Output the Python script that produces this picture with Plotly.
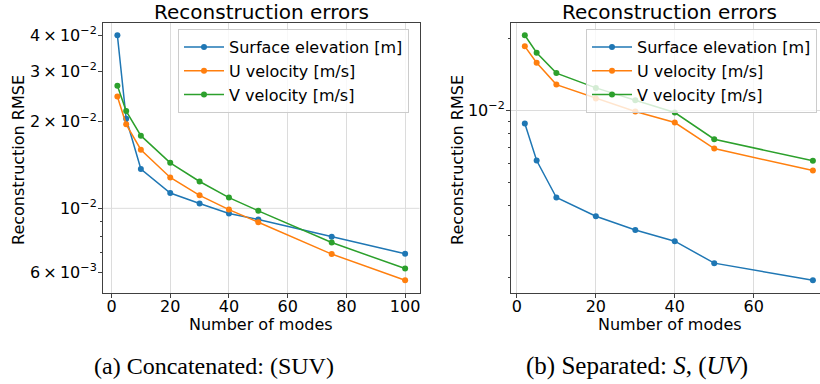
import plotly.graph_objects as go

# ---------------- data ----------------
modes_a = [2, 5, 10, 20, 30, 40, 50, 75, 100]
surf_a = [4.0e-2, 2.05e-2, 1.37e-2, 1.13e-2, 1.04e-2, 9.6e-3, 9.14e-3, 7.96e-3, 6.95e-3]
u_a = [2.45e-2, 1.96e-2, 1.60e-2, 1.28e-2, 1.11e-2, 9.9e-3, 8.94e-3, 6.93e-3, 5.62e-3]
v_a = [2.67e-2, 2.18e-2, 1.79e-2, 1.44e-2, 1.24e-2, 1.09e-2, 9.8e-3, 7.6e-3, 6.17e-3]

modes_b = [2, 5, 10, 20, 30, 40, 50, 75]
surf_b = [8.8e-3, 6.16e-3, 4.31e-3, 3.60e-3, 3.15e-3, 2.83e-3, 2.29e-3, 1.94e-3]
u_b = [1.85e-2, 1.58e-2, 1.28e-2, 1.12e-2, 9.87e-3, 8.88e-3, 6.91e-3, 5.59e-3]
v_b = [2.06e-2, 1.74e-2, 1.43e-2, 1.24e-2, 1.10e-2, 9.78e-3, 7.56e-3, 6.14e-3]

series_names = ["Surface elevation [m]", "U velocity [m/s]", "V velocity [m/s]"]
colors = ["#1f77b4", "#ff7f0e", "#2ca02c"]

ytick_a_vals = [0.006, 0.01, 0.02, 0.03, 0.04]
ytick_a_text = ["6\u2009×\u200910<sup>−3</sup>", "10<sup>−2</sup>", "2\u2009×\u200910<sup>−2</sup>",
                "3\u2009×\u200910<sup>−2</sup>", "4\u2009×\u200910<sup>−2</sup>"]
yminor_a = [0.007, 0.008, 0.009]
ytick_b_vals = [0.01]
ytick_b_text = ["10<sup>−2</sup>"]
yminor_b = [0.002, 0.003, 0.004, 0.005, 0.006, 0.007, 0.008, 0.009, 0.02]
xtick_a = [0, 20, 40, 60, 80, 100]
xtick_b = [0, 20, 40, 60]

title_text = "Reconstruction errors"
ylabel = "Reconstruction RMSE"
xlabel = "Number of modes"
caption_a = "(a) Concatenated: (SUV)"
caption_b = "(b) Separated: <i>S</i>, (<i>UV</i>)"

W, H = 820, 384
FONT = "DejaVu Sans"

fig = go.Figure()

for name, ys, col in zip(series_names, [surf_a, u_a, v_a], colors):
    fig.add_trace(go.Scatter(x=modes_a, y=ys, name=name, mode="lines+markers",
                             line=dict(color=col, width=1.5), marker=dict(size=6, color=col),
                             xaxis="x", yaxis="y", legend="legend"))
for name, ys, col in zip(series_names, [surf_b, u_b, v_b], colors):
    fig.add_trace(go.Scatter(x=modes_b, y=ys, name=name, mode="lines+markers",
                             line=dict(color=col, width=1.5), marker=dict(size=6, color=col),
                             xaxis="x2", yaxis="y2", legend="legend2"))


def px_x(p):
    return p / W


def px_y(p):
    return 1 - p / H


LC = "#404040"
axis_common = dict(showline=True, linecolor=LC, linewidth=1,
                   ticks="outside", ticklen=4, tickcolor=LC,
                   tickfont=dict(family=FONT, size=16, color="black"), zeroline=False)

gridc = "#dcdcdc"

legend_common = dict(xanchor="left", yanchor="top",
                     bgcolor="rgba(255,255,255,0.8)", bordercolor="#cccccc", borderwidth=1,
                     font=dict(family=FONT, size=16, color="black"), itemwidth=40)

fig.update_layout(
    width=W, height=H, margin=dict(l=0, r=0, t=0, b=0),
    paper_bgcolor="white", plot_bgcolor="white",
    font=dict(family=FONT, color="black"),
    xaxis=dict(domain=[px_x(103), px_x(419.5)], range=[-2.9, 104.9], tickvals=xtick_a,
               showgrid=True, gridcolor=gridc, gridwidth=1, anchor="y", mirror=True,
               ticklabelstandoff=-5, **axis_common),
    yaxis=dict(domain=[px_y(292.5), px_y(23)], type="log", range=[-2.293, -1.355],
               tickvals=ytick_a_vals, ticktext=ytick_a_text, showgrid=False, anchor="x",
               mirror=True, ticklabelstandoff=-2,
               minor=dict(tickvals=yminor_a, ticks="outside", ticklen=2.5, tickcolor=LC, showgrid=False),
               **axis_common),
    xaxis2=dict(domain=[px_x(511), 1.0], range=[-1.5, 76.8], tickvals=xtick_b,
                showgrid=True, gridcolor=gridc, gridwidth=1, anchor="y2", mirror=True,
                ticklabelstandoff=-5, **axis_common),
    yaxis2=dict(domain=[px_y(292.5), px_y(23)], type="log", range=[-2.763, -1.635],
                tickvals=ytick_b_vals, ticktext=ytick_b_text, showgrid=True, gridcolor=gridc,
                anchor="x2", mirror=False, ticklabelstandoff=-2,
                minor=dict(tickvals=yminor_b, ticks="outside", ticklen=2.5, tickcolor=LC, showgrid=False),
                **axis_common),
    legend=dict(x=px_x(178), y=px_y(29), **legend_common),
    legend2=dict(x=px_x(586), y=px_y(29), **legend_common),
    showlegend=True,
)

# horizontal major gridline at 1e-2 for the left panel
fig.add_shape(type="line", xref="x domain", yref="y", x0=0, x1=1, y0=0.01, y1=0.01,
              line=dict(color=gridc, width=1), layer="below")

ann = []
for cx in [261, 669.5]:
    ann.append(dict(text=title_text, xref="paper", x=px_x(cx), yref="paper", y=px_y(12),
                    xanchor="center", yanchor="middle", showarrow=False,
                    font=dict(family=FONT, size=20, color="black")))
for cx in [261, 669.5]:
    ann.append(dict(text=xlabel, xref="paper", x=px_x(cx), yref="paper", y=px_y(324),
                    xanchor="center", yanchor="middle", showarrow=False,
                    font=dict(family=FONT, size=16, color="black")))
for cx in [18, 457]:
    ann.append(dict(text=ylabel, xref="paper", x=px_x(cx), yref="paper", y=px_y(160),
                    xanchor="center", yanchor="middle", showarrow=False, textangle=-90,
                    font=dict(family=FONT, size=16, color="black")))
ann.append(dict(text=caption_a, xref="paper", x=px_x(214), yref="paper", y=px_y(366),
                xanchor="center", yanchor="middle", showarrow=False,
                font=dict(family="Liberation Serif", size=24, color="black")))
ann.append(dict(text=caption_b, xref="paper", x=px_x(637), yref="paper", y=px_y(366),
                xanchor="center", yanchor="middle", showarrow=False,
                font=dict(family="Liberation Serif", size=25, color="black")))
fig.update_layout(annotations=ann)

fig.write_html("out.html")
